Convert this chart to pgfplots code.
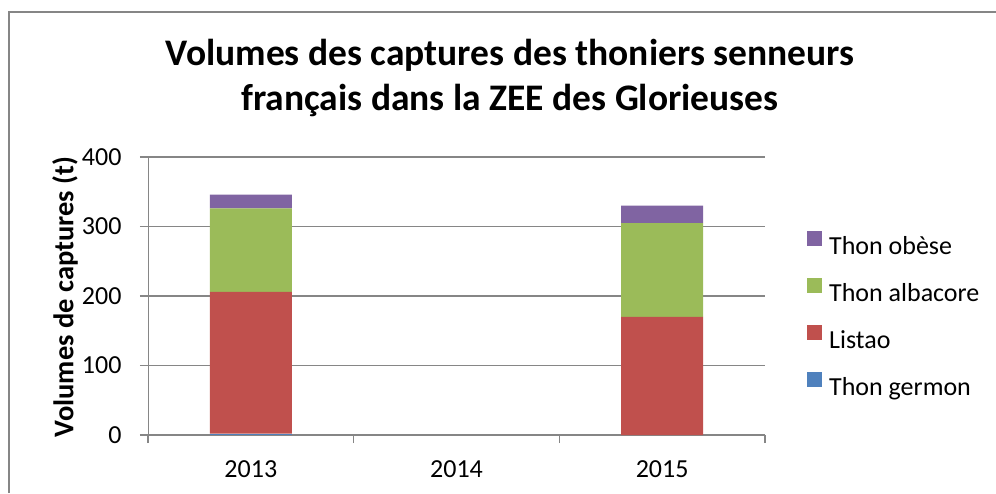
\documentclass[border=0pt]{standalone}
\usepackage{fontspec}
\setmainfont{Carlito}
\usepackage{pgfplots}
\pgfplotsset{compat=1.18}

\definecolor{gridgray}{HTML}{868686}
\definecolor{germon}{HTML}{4F81BD}
\definecolor{listao}{HTML}{C0504D}
\definecolor{albacore}{HTML}{9BBB59}
\definecolor{obese}{HTML}{8064A2}

\pgfplotsset{
  sqleg/.style={legend image code/.code={\fill[##1] (0pt,0pt) rectangle (15pt,15pt);}},
}

\newcommand{\lbl}{\fontsize{26}{30}\selectfont}

\begin{document}
\begin{tikzpicture}
\useasboundingbox (0pt,0pt) rectangle (996pt,493pt);
\fill[white] (0pt,0pt) rectangle (996pt,493pt);
\draw[gridgray, line width=1.2pt] (9pt,0pt) -- (9pt,481pt) -- (996pt,481pt);

\begin{axis}[
  at={(148pt,58pt)}, anchor=south west,
  scale only axis, width=617pt, height=278pt,
  ybar stacked, bar width=82pt,
  xmin=-0.5, xmax=2.5, ymin=0, ymax=400,
  xtick={-0.5,0.5,1.5,2.5},
  xticklabels={2013,2014,2015},
  x tick label as interval,
  ytick={0,100,200,300,400},
  tick pos=left, tick align=outside, major tick length=8pt,
  every tick/.style={gridgray, line width=1.2pt},
  axis line style={draw=none},
  ymajorgrids, grid style={gridgray, line width=1.2pt},
  tick label style={font=\lbl},
  /pgf/number format/assume math mode=true,
  yticklabel style={xshift=-15pt},
  xticklabel style={yshift=-14pt},
  reverse legend,
  legend cell align=left,
  legend style={draw=none, fill=none, at={(1.068,0.735)}, anchor=north west,
    inner sep=0pt, row sep=23pt, font=\lbl,
    nodes={inner sep=0pt, text depth=0pt}},
]
\addplot[fill=germon, draw=none, sqleg] coordinates {(0,2) (1,0) (2,0)};
\addplot[fill=listao, draw=none, sqleg] coordinates {(0,204) (1,0) (2,170)};
\addplot[fill=albacore, draw=none, sqleg] coordinates {(0,120) (1,0) (2,135)};
\addplot[fill=obese, draw=none, sqleg] coordinates {(0,20) (1,0) (2,25)};
\legend{\hspace{7pt}Thon germon, \hspace{7pt}Listao, \hspace{7pt}Thon albacore, \hspace{7pt}Thon obèse}
\draw[gridgray, line width=1.2pt] (rel axis cs:0,0) -- (rel axis cs:1,0);
\draw[gridgray, line width=1.2pt] (rel axis cs:0,0) -- (rel axis cs:0,1);
\end{axis}

\node[anchor=base, font=\fontsize{37.5}{45}\selectfont\bfseries] at (510pt,427pt) {Volumes des captures des thoniers senneurs};
\node[anchor=base, font=\fontsize{37.5}{45}\selectfont\bfseries] at (510pt,382pt) {français dans la ZEE des Glorieuses};
\node[rotate=90, font=\fontsize{28.5}{34}\selectfont\bfseries] at (65pt,196pt) {Volumes de captures (t)};
\end{tikzpicture}
\end{document}
